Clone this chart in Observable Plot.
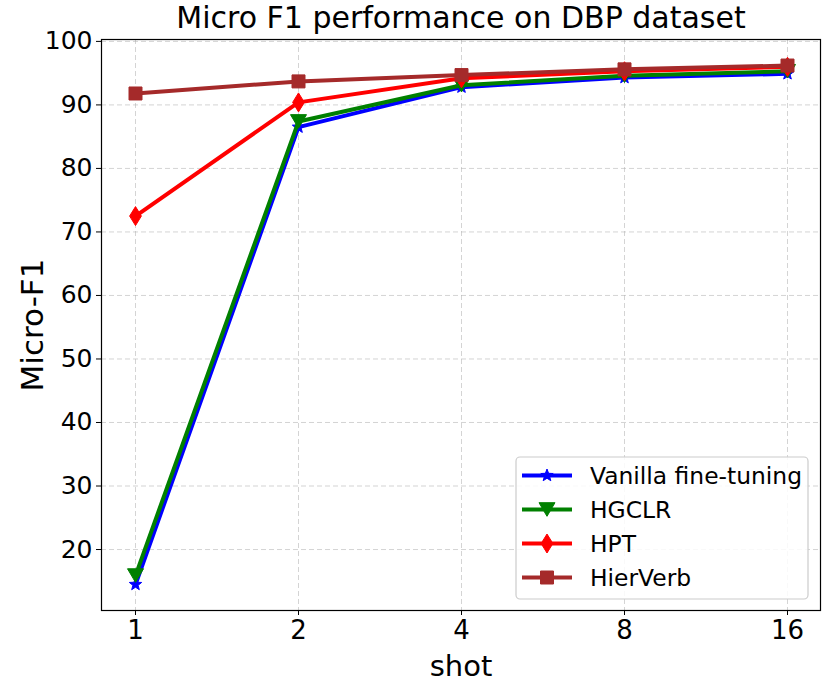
<!DOCTYPE html>
<html>
<head>
<meta charset="utf-8">
<script src="https://cdn.jsdelivr.net/npm/d3@7"></script>
<script src="https://cdn.jsdelivr.net/npm/@observablehq/plot@0.6"></script>
<style>
  html, body { margin: 0; padding: 0; background: #fff; }
  #wrap { position: relative; width: 830px; height: 689px; }
  #wrap svg { display: block; }
  #legend { position: absolute; left: 0; top: 0; pointer-events: none; }
</style>
</head>
<body>
<div id="wrap"></div>
<script>
const shots = ["1", "2", "4", "8", "16"];
const seriesNames = ["Vanilla fine-tuning", "HGCLR", "HPT", "HierVerb"];
const seriesColors = ["#0000ff", "#008000", "#ff0000", "#a52a2a"];
const vanilla = [14.5, 86.5, 92.8, 94.3, 94.9];
const hgclr = [15.9, 87.4, 93.1, 94.6, 95.3];
const hpt = [72.5, 90.4, 94.2, 95.3, 96.0];
const hierverb = [91.8, 93.7, 94.7, 95.6, 96.2];
const yTicks = [20, 30, 40, 50, 60, 70, 80, 90, 100];
const titleText = "Micro F1 performance on DBP dataset";

// custom marker shapes (size = pi r^2)
const rOf = (size) => Math.sqrt(size / Math.PI);
const starSym = {
  draw(ctx, size) {
    const r = rOf(size), ri = r * 0.42;
    for (let i = 0; i < 10; i++) {
      const a = -Math.PI / 2 + i * Math.PI / 5;
      const rr = i % 2 ? ri : r;
      const x = rr * Math.cos(a), y = rr * Math.sin(a);
      i ? ctx.lineTo(x, y) : ctx.moveTo(x, y);
    }
    ctx.closePath();
  }
};
const triDownSym = {
  draw(ctx, size) {
    const r = rOf(size);
    ctx.moveTo(-r, -r * 0.85);
    ctx.lineTo(r, -r * 0.85);
    ctx.lineTo(0, r * 0.85);
    ctx.closePath();
  }
};
const thinDiamondSym = {
  draw(ctx, size) {
    const r = rOf(size);
    ctx.moveTo(0, -r);
    ctx.lineTo(r * 0.62, 0);
    ctx.lineTo(0, r);
    ctx.lineTo(-r * 0.62, 0);
    ctx.closePath();
  }
};
const squareSym = {
  draw(ctx, size) {
    const r = rOf(size);
    ctx.rect(-r, -r, 2 * r, 2 * r);
  }
};
const seriesSymbols = [starSym, triDownSym, thinDiamondSym, squareSym];
const seriesR = [6.5, 8, 9.5, 6.5];
const seriesValues = [vanilla, hgclr, hpt, hierverb];

const rows = [];
seriesNames.forEach((name, i) => {
  shots.forEach((s, j) => rows.push({series: name, idx: i, shot: s, value: seriesValues[i][j]}));
});

const marks = [
  Plot.gridY(yTicks, {stroke: "#b0b0b0", strokeOpacity: 0.55, strokeDasharray: "5,3", strokeWidth: 1}),
  Plot.gridX(shots, {stroke: "#b0b0b0", strokeOpacity: 0.55, strokeDasharray: "5,3", strokeWidth: 1}),
  Plot.axisY(yTicks, {tickSize: 5, tickPadding: 4, fontSize: 25, label: null}),
  Plot.axisX(shots, {tickSize: 5, tickPadding: 5, fontSize: 26, label: null}),
];
seriesNames.forEach((name, i) => {
  const d = rows.filter(r => r.idx === i);
  marks.push(Plot.line(d, {x: "shot", y: "value", stroke: seriesColors[i], strokeWidth: 4}));
  marks.push(Plot.dot(d, {x: "shot", y: "value", symbol: seriesSymbols[i], r: seriesR[i], fill: seriesColors[i], stroke: seriesColors[i], strokeWidth: 1}));
});
marks.push(Plot.frame({stroke: "#000", strokeWidth: 1.2}));
marks.push(Plot.text([titleText], {frameAnchor: "top", dy: -12, fontSize: 30, fill: "#000", lineAnchor: "bottom"}));
marks.push(Plot.text(["shot"], {frameAnchor: "bottom", dy: 65, fontSize: 29, fill: "#000", lineAnchor: "bottom"}));
marks.push(Plot.text(["Micro-F1"], {frameAnchor: "left", dx: -68, rotate: -90, textAnchor: "middle", fontSize: 31, fill: "#000"}));

const chart = Plot.plot({
  width: 830,
  height: 689,
  marginLeft: 101,
  marginRight: 10,
  marginTop: 39,
  marginBottom: 79,
  style: {fontFamily: "DejaVu Sans", color: "#000", background: "#fff", overflow: "visible"},
  x: {type: "point", domain: shots, padding: 0.2},
  y: {domain: [10.4, 100.3]},
  symbol: {type: "identity"},
  marks
});
document.getElementById("wrap").appendChild(chart);

// legend overlay
const lg = d3.select("#wrap").append("svg").attr("id", "legend").attr("width", 830).attr("height", 689);
lg.append("rect").attr("x", 516).attr("y", 457).attr("width", 292).attr("height", 142)
  .attr("rx", 4).attr("fill", "rgba(255,255,255,0.85)").attr("stroke", "#cccccc").attr("stroke-width", 1.2);
const rowY = [475.5, 509.5, 543.5, 577.5];
seriesNames.forEach((name, i) => {
  const g = lg.append("g");
  g.append("line").attr("x1", 522).attr("x2", 572).attr("y1", rowY[i]).attr("y2", rowY[i])
    .attr("stroke", seriesColors[i]).attr("stroke-width", 4);
  g.append("path").attr("transform", `translate(547,${rowY[i]})`)
    .attr("d", d3.symbol(seriesSymbols[i], Math.PI * seriesR[i] * seriesR[i])())
    .attr("fill", seriesColors[i]).attr("stroke", seriesColors[i]);
  g.append("text").attr("x", 590).attr("y", rowY[i]).attr("dy", "0.36em")
    .attr("font-family", "DejaVu Sans").attr("font-size", 23.4).attr("fill", "#000").text(name);
});
</script>
</body>
</html>
